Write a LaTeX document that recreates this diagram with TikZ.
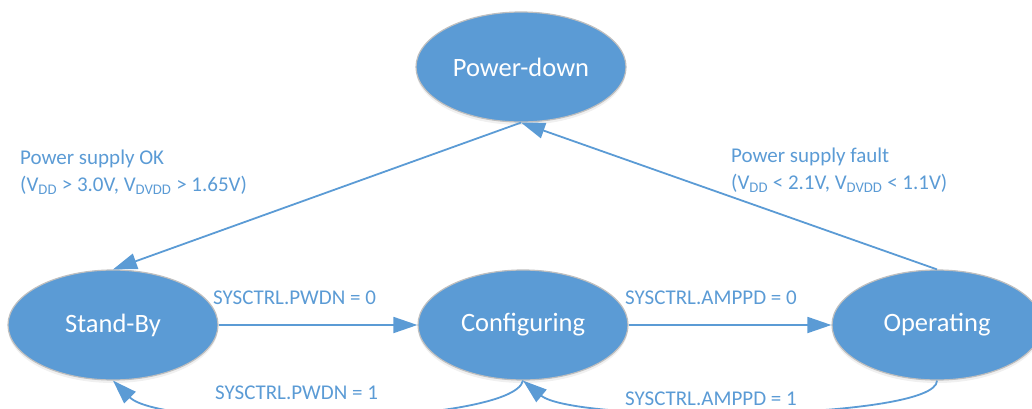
\documentclass[tikz,border=0pt]{standalone}
\usepackage{fontspec}
\setmainfont{Carlito}
\usetikzlibrary{shapes.geometric, arrows.meta, shadows}
\definecolor{stateblue}{HTML}{5B9BD5}
\definecolor{stateedge}{HTML}{BFBFBF}

\begin{document}
\begin{tikzpicture}[x = 1pt, y = -1pt,
  state/.style = {ellipse, fill = stateblue, draw = stateedge, line width = 1.2pt,
    minimum width = 210pt, minimum height = 110pt, inner sep = 0pt, text = white,
    drop shadow = {opacity = 0.12, shadow xshift = 0pt, shadow yshift = -3pt},
    font = \fontsize{26.5}{30}\selectfont},
  trans/.style = {draw = stateblue, line width = 1.8pt, -{Triangle[length = 24pt, width = 16pt]}},
  lbl/.style = {text = stateblue, font = \fontsize{21}{26.5}\selectfont, inner sep = 0pt,
    anchor = base west, align = left}]

  \useasboundingbox (0,0) rectangle (1032,409);

  % Draw states
  \node[state] (pd) at (521,67) {Power-down};
  \node[state] (sb) at (113,325) {Stand-By};
  \node[state] (cf) at (523,325) {Configuring};
  \node[state] (op) at (937,325) {Operating};

  % Draw transitions
  \draw[trans] (pd.south) -- (sb.north);
  \draw[trans] (op.north) -- (pd.south);
  \draw[trans] (sb) -- (cf);
  \draw[trans] (cf) -- (op);
  \draw[trans] (cf.south) .. controls +(-10,45) and +(50,50) .. (sb.south);
  \draw[trans] (op.south) .. controls +(0,40) and +(52,43) .. (cf.south);

  % Label the transitions
  \node[lbl] (okl) at (20,191) {Power supply OK\\(V\textsubscript{DD} > 3.0V, V\textsubscript{DVDD} > 1.65V)};
  \node[lbl] (fault) at (731,189) {Power supply fault\\(V\textsubscript{DD} < 2.1V, V\textsubscript{DVDD} < 1.1V)};
  \node[lbl] (pwdn0) at (213,304) {SYSCTRL.PWDN = 0};
  \node[lbl] (pwdn1) at (215,399) {SYSCTRL.PWDN = 1};
  \node[lbl] (amp0) at (625,304) {SYSCTRL.AMPPD = 0};
  \node[lbl] (amp1) at (625,405) {SYSCTRL.AMPPD = 1};

\end{tikzpicture}
\end{document}
